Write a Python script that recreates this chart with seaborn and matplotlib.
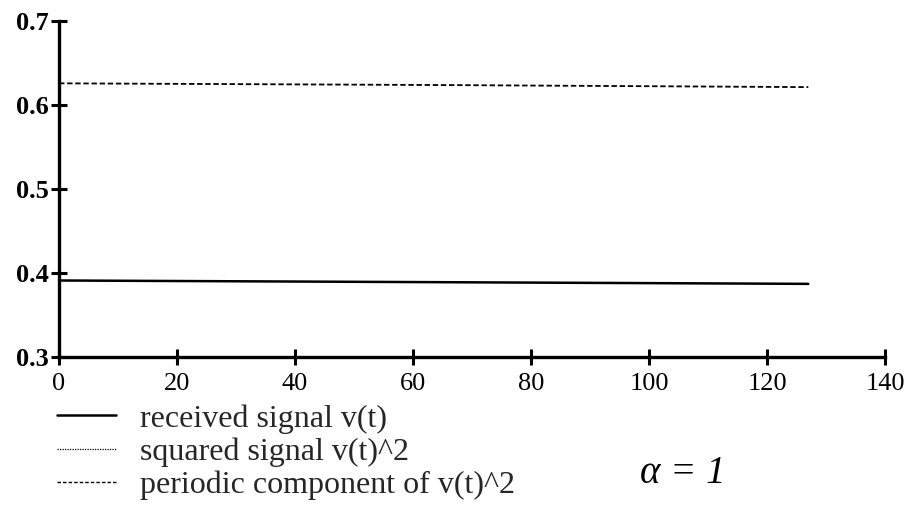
import matplotlib
matplotlib.use("Agg")
import matplotlib.pyplot as plt
import seaborn as sns
import pandas as pd
from matplotlib.lines import Line2D

# ---- data ----
t_values = [0, 64, 127]
received_signal = [0.391, 0.389, 0.387]
periodic_component = [0.6255, 0.6235, 0.621]
x_ticks = [0, 20, 40, 60, 80, 100, 120, 140]
y_ticks = [0.3, 0.4, 0.5, 0.6, 0.7]
legend_labels = ["received signal v(t)", "squared signal v(t)^2",
                 "periodic component of v(t)^2"]

sns.set_theme(style="white")
plt.rcParams['font.family'] = ['Liberation Serif', 'DejaVu Serif']

fig = plt.figure(figsize=(9.16, 5.09), dpi=100)
ax = fig.add_axes([59/916, 1-357/509, (885-59)/916, (357-20.7)/509])

df = pd.DataFrame({"t": t_values, "v": received_signal, "p": periodic_component})
sns.lineplot(data=df, x="t", y="v", ax=ax, color="black", linewidth=1.8)
sns.lineplot(data=df, x="t", y="p", ax=ax, color="black", linewidth=1.3,
             dashes=False, linestyle=(0, (3, 1.5)))

ax.set_xlim(0, 140)
ax.set_ylim(0.3, 0.7)
ax.set_xticks(x_ticks)
ax.set_yticks(y_ticks)
ax.set_xticklabels([str(v) for v in x_ticks], fontsize=19)
ax.set_yticklabels([f"{v:.1f}" for v in y_ticks], fontsize=19, fontweight="bold")
ax.set_xlabel("")
ax.set_ylabel("")
for s in ["top", "right"]:
    ax.spines[s].set_visible(False)
for s in ["left", "bottom"]:
    ax.spines[s].set_linewidth(2.4)
    ax.spines[s].set_color("black")
ax.tick_params(axis="both", direction="inout", length=11, width=2.2,
               color="black", labelcolor="black", bottom=True, left=True)
ax.tick_params(axis="y", pad=2)
ax.tick_params(axis="x", pad=6)

handles = [
    Line2D([], [], color="black", linewidth=1.8),
    Line2D([], [], color="black", linewidth=0.9, linestyle=(0, (1, 1))),
    Line2D([], [], color="black", linewidth=1.0, linestyle=(0, (2.5, 1.5))),
]
fig.legend(handles, legend_labels, loc="upper left",
           bbox_to_anchor=(57/916, 1-404/509), frameon=False, fontsize=23,
           handlelength=1.85, handletextpad=0.75, labelspacing=0.12,
           borderpad=0, borderaxespad=0)

fig.text(640/916, 1-483/509, "α = 1", fontsize=28, fontstyle="italic",
         color="black")

fig.savefig("out.png", dpi=100, facecolor="white")
